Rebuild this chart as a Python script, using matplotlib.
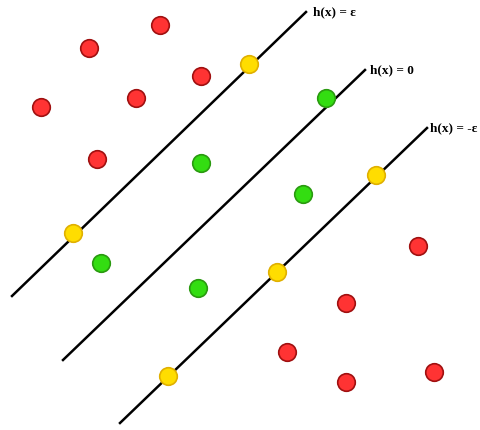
"""SVM margin 示意图 - h(x) = ε / 0 / -ε 三条直线"""

import matplotlib
matplotlib.use('Agg')
import matplotlib.pyplot as plt

# 点坐标 (像素坐标系, y 向下)
red_x = [160, 89, 201, 136, 41, 97, 418, 346, 287, 346, 434]
red_y = [25, 48, 76, 98, 107, 159, 246, 303, 352, 382, 372]
green_x = [326, 201, 303, 101, 198]
green_y = [98, 163, 194, 263, 288]
yellow_x = [249, 73, 376, 277, 168]
yellow_y = [64, 233, 175, 272, 376]

# 三条直线端点
line_x = [[12, 306], [63, 365], [120, 427]]
line_y = [[296, 12], [360, 70], [423, 128]]
line_labels = ['h(x) = ε', 'h(x) = 0', 'h(x) = -ε']
label_pos = [(313, 12), (370, 70), (430, 128)]

fig = plt.figure(figsize=(4.8, 4.3), dpi=100)
ax = fig.add_axes([0, 0, 1, 1])
ax.set_xlim(0, 480)
ax.set_ylim(430, 0)
ax.axis('off')

for xs, ys, lab, pos in zip(line_x, line_y, line_labels, label_pos):
    ax.plot(xs, ys, color='black', linewidth=1.8, zorder=1)
    ax.text(pos[0], pos[1], lab, fontsize=9.5, fontweight='bold',
            family=['Liberation Serif', 'DejaVu Serif'], va='center', ha='left')

ax.scatter(red_x, red_y, s=160, color='#ff3333', edgecolors='#a01010', linewidths=1.2, zorder=3)
ax.scatter(green_x, green_y, s=160, color='#33dd11', edgecolors='#2a9a10', linewidths=1.2, zorder=3)
ax.scatter(yellow_x, yellow_y, s=160, color='#ffdd00', edgecolors='#e0b000', linewidths=1.2, zorder=3)

plt.savefig('out.png', dpi=100)
plt.close()
